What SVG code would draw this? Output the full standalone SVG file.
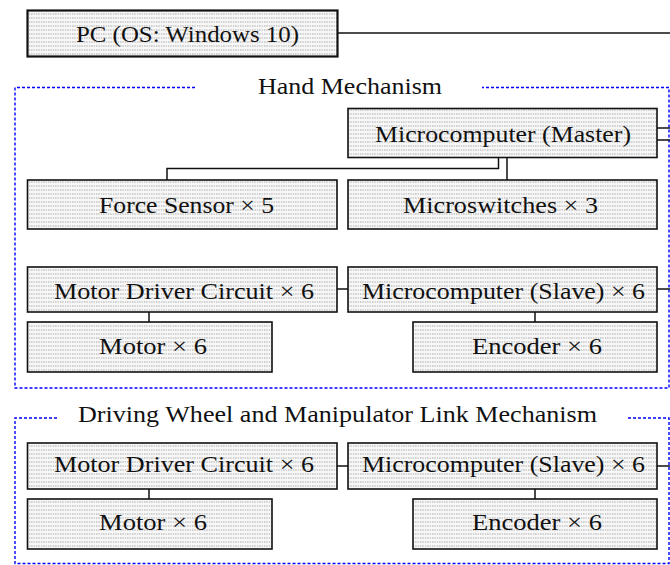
<svg xmlns="http://www.w3.org/2000/svg" width="670" height="565" viewBox="0 0 670 565">
  <defs>
    <!-- dotted fill used by every block -->
    <pattern id="dots" width="2.4" height="4" patternUnits="userSpaceOnUse">
      <rect width="2.4" height="4" fill="#f7f7f7"/>
      <rect x="0.2" y="1.5" width="1" height="1" fill="#8c8c8c"/>
    </pattern>
    <style>
      .box { fill: url(#dots); stroke: #111; stroke-width: 1.6; }
      .pc { stroke-width: 2.2; }
      .wire { fill: none; stroke: #111; stroke-width: 1.5; }
      .frame { fill: none; stroke: #0000ff; stroke-width: 1.4; stroke-dasharray: 3 2; }
      text { font-family: "Liberation Serif", "DejaVu Serif", serif; font-size: 22.5px; fill: #111; text-anchor: middle; }
    </style>
  </defs>

  <!-- group frames -->
  <g id="frames">
    <path class="frame" d="M195 87.5 H15 V388 H669 V87.5 H482"/>
    <text x="350" y="94" textLength="184" lengthAdjust="spacingAndGlyphs">Hand Mechanism</text>
    <path class="frame" d="M57 418 H15 V563.5 H669 V418 H628"/>
    <text x="337.5" y="421.5" textLength="519" lengthAdjust="spacingAndGlyphs">Driving Wheel and Manipulator Link Mechanism</text>
  </g>

  <!-- connectors -->
  <g id="connectors">
    <path class="wire" d="M337 33 H670"/>
    <path class="wire" d="M657 128 H670 M657 140 H670"/>
    <path class="wire" d="M498.5 157.5 V168.5 H167 V180"/>
    <path class="wire" d="M507 157.5 V180"/>
    <path class="wire" d="M337 289 H348 M657 289 H670"/>
    <path class="wire" d="M149 312 V322 M535 312 V322"/>
    <path class="wire" d="M337 466 H348 M657 466 H670"/>
    <path class="wire" d="M149 489 V499 M535 489 V499"/>
  </g>

  <g id="pc">
    <rect class="box pc" x="27.5" y="10.5" width="310" height="46"/>
    <text x="187.5" y="42" textLength="223" lengthAdjust="spacingAndGlyphs">PC (OS: Windows 10)</text>
  </g>

  <g id="master">
    <rect class="box" x="348" y="108.5" width="309" height="49"/>
    <text x="503" y="141.5" textLength="256" lengthAdjust="spacingAndGlyphs">Microcomputer (Master)</text>
  </g>

  <g id="force-sensor">
    <rect class="box" x="27.5" y="180" width="309.5" height="49"/>
    <text x="186.5" y="213" textLength="175" lengthAdjust="spacingAndGlyphs">Force Sensor × 5</text>
  </g>

  <g id="microswitches">
    <rect class="box" x="348" y="180" width="309" height="49"/>
    <text x="500.5" y="213" textLength="195" lengthAdjust="spacingAndGlyphs">Microswitches × 3</text>
  </g>

  <g id="hand-driver">
    <rect class="box" x="27.5" y="267" width="309.5" height="45"/>
    <text x="184" y="299" textLength="260" lengthAdjust="spacingAndGlyphs">Motor Driver Circuit × 6</text>
  </g>

  <g id="hand-slave">
    <rect class="box" x="348" y="267" width="309" height="45"/>
    <text x="503.5" y="299" textLength="283" lengthAdjust="spacingAndGlyphs">Microcomputer (Slave) × 6</text>
  </g>

  <g id="hand-motor">
    <rect class="box" x="27.5" y="322" width="244.5" height="50"/>
    <text x="153" y="353.5" textLength="108" lengthAdjust="spacingAndGlyphs">Motor × 6</text>
  </g>

  <g id="hand-encoder">
    <rect class="box" x="413" y="322" width="244" height="50"/>
    <text x="537" y="353.5" textLength="130" lengthAdjust="spacingAndGlyphs">Encoder × 6</text>
  </g>

  <g id="wheel-driver">
    <rect class="box" x="27.5" y="443" width="309.5" height="46"/>
    <text x="184" y="471.5" textLength="260" lengthAdjust="spacingAndGlyphs">Motor Driver Circuit × 6</text>
  </g>

  <g id="wheel-slave">
    <rect class="box" x="348" y="443" width="309" height="46"/>
    <text x="503.5" y="471.5" textLength="283" lengthAdjust="spacingAndGlyphs">Microcomputer (Slave) × 6</text>
  </g>

  <g id="wheel-motor">
    <rect class="box" x="27.5" y="499" width="244.5" height="50"/>
    <text x="153" y="529.5" textLength="108" lengthAdjust="spacingAndGlyphs">Motor × 6</text>
  </g>

  <g id="wheel-encoder">
    <rect class="box" x="413" y="499" width="244" height="50"/>
    <text x="537" y="529.5" textLength="130" lengthAdjust="spacingAndGlyphs">Encoder × 6</text>
  </g>
</svg>
